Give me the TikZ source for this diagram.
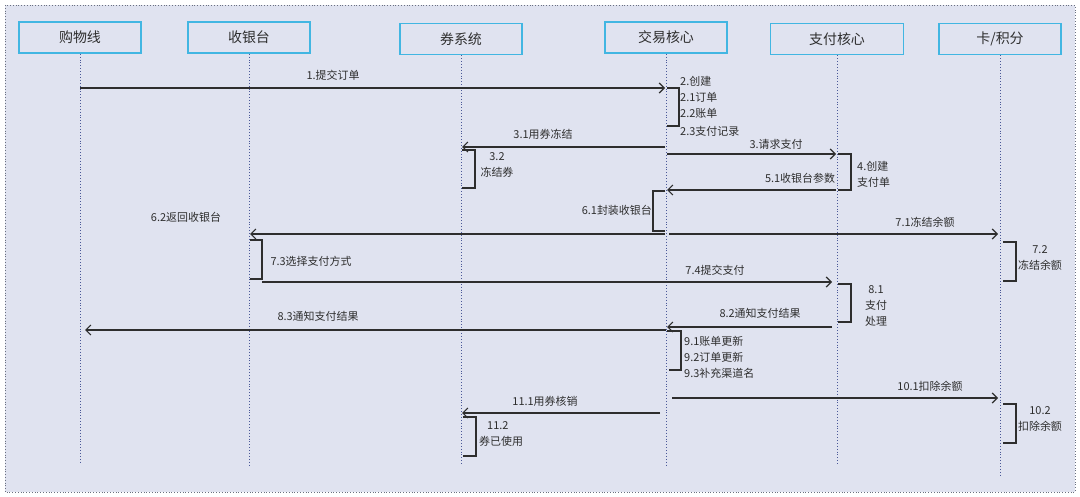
\documentclass[tikz,border=0pt]{standalone}
\usepackage{fontspec}
\setmainfont{Liberation Serif}
\newfontfamily\cjk{Noto Sans CJK SC}
\usetikzlibrary{arrows.meta}
\definecolor{bg}{HTML}{E0E3F0}
\definecolor{boxline}{HTML}{42B6E2}
\definecolor{life}{HTML}{4A5898}
\definecolor{ink}{HTML}{2E2E2E}
\definecolor{frame}{HTML}{6A7080}
\tikzset{
  actor/.style={draw=boxline, line width=1.6bp, fill=bg, minimum width=122bp, minimum height=31bp,
    inner sep=0pt, font=\cjk\fontsize{14}{16}\selectfont, text=ink},
  lifeline/.style={draw=life, dotted, line width=0.9bp},
  msg/.style={draw=ink, line width=1.2bp, -{Straight Barb[length=5bp,width=10bp,line width=1.2bp]}},
  brk/.style={draw=ink, line width=1.2bp},
  lbl/.style={font=\cjk\fontsize{11}{16}\selectfont, text=ink, inner sep=0pt}
}
\begin{document}
\begin{tikzpicture}[x=1bp,y=-1bp]
\useasboundingbox (0,0) rectangle (1080,497);
\fill[white] (0,0) rectangle (1080,497);
\draw[frame, fill=bg, dotted, line width=0.8bp] (5,5) rectangle (1075,492);

% actors
\node[actor] (b1) at (80,37.5) {购物线};
\node[actor] (b2) at (249,37.5) {收银台};
\node[actor] (b3) at (461,39) {券系统};
\node[actor] (b4) at (666,37.5) {交易核心};
\node[actor, minimum width=133bp] (b5) at (837,39) {支付核心};
\node[actor] (b6) at (1000,39) {卡/积分};

% lifeline ends
\coordinate (e1) at (80,463);
\coordinate (e2) at (249,465);
\coordinate (e3) at (461,465);
\coordinate (e4) at (666,465);
\coordinate (e5) at (837,465);
\coordinate (e6) at (1000,475);
\foreach \i in {1,...,6} \draw[lifeline] (b\i.south) -- (e\i);

% 1
\coordinate (m1a) at (80,88); \coordinate (m1b) at (665,88);
\draw[msg] (m1a) -- (m1b);
\node[lbl] (t1) at (333,75) {1.提交订单};
% 2 self
\coordinate (s2a) at (667,88); \coordinate (s2b) at (667,126);
\draw[brk] (s2a) -- ++(12,0) |- (s2b);
\node[lbl, anchor=west] (t2a) at (680,81) {2.创建};
\node[lbl, anchor=west] (t2b) at (680,97) {2.1订单};
\node[lbl, anchor=west] (t2c) at (680,113) {2.2账单};
\node[lbl, anchor=west] (t2d) at (680,131) {2.3支付记录};
% 3.1
\coordinate (m31a) at (665,147); \coordinate (m31b) at (462,147);
\draw[msg] (m31a) -- (m31b);
\node[lbl] (t31) at (543,134) {3.1用券冻结};
% 3.2
\coordinate (s32a) at (462,150); \coordinate (s32b) at (462,188);
\draw[brk] (s32a) -- ++(13,0) |- (s32b);
\node[lbl, align=center] (t32) at (497,165) {3.2\\冻结券};
% 3
\coordinate (m3a) at (667,154); \coordinate (m3b) at (836,154);
\draw[msg] (m3a) -- (m3b);
\node[lbl] (t3) at (776,144) {3.请求支付};
% 4
\coordinate (s4a) at (838,154); \coordinate (s4b) at (838,190);
\draw[brk] (s4a) -- ++(13,0) |- (s4b);
\node[lbl, align=left, anchor=west] (t4) at (857,174) {4.创建\\支付单};
% 5.1
\coordinate (m51a) at (836,190); \coordinate (m51b) at (667,190);
\draw[msg] (m51a) -- (m51b);
\node[lbl] (t51) at (800,178) {5.1收银台参数};
% 6.1
\coordinate (s61a) at (665,191); \coordinate (s61b) at (665,231);
\draw[brk] (s61a) -- ++(-12,0) |- (s61b);
\node[lbl, anchor=east] (t61) at (652,210) {6.1封装收银台};
% 6.2
\coordinate (m62a) at (665,234); \coordinate (m62b) at (250,234);
\draw[msg] (m62a) -- (m62b);
\node[lbl] (t62) at (186,217) {6.2返回收银台};
% 7.1
\coordinate (m71a) at (669,234); \coordinate (m71b) at (998,234);
\draw[msg] (m71a) -- (m71b);
\node[lbl] (t71) at (925,222) {7.1冻结余额};
% 7.2
\coordinate (s72a) at (1003,242); \coordinate (s72b) at (1003,281);
\draw[brk] (s72a) -- ++(13,0) |- (s72b);
\node[lbl, align=center] (t72) at (1040,258) {7.2\\冻结余额};
% 7.3
\coordinate (s73a) at (250,240); \coordinate (s73b) at (250,279);
\draw[brk] (s73a) -- ++(12,0) |- (s73b);
\node[lbl] (t73) at (311,261) {7.3选择支付方式};
% 7.4
\coordinate (m74a) at (262,282); \coordinate (m74b) at (832,282);
\draw[msg] (m74a) -- (m74b);
\node[lbl] (t74) at (715,270) {7.4提交支付};
% 8.1
\coordinate (s81a) at (838,284); \coordinate (s81b) at (838,322);
\draw[brk] (s81a) -- ++(13,0) |- (s81b);
\node[lbl, align=center] (t81) at (876,306) {8.1\\支付\\处理};
% 8.2
\coordinate (m82a) at (832,327); \coordinate (m82b) at (667,327);
\draw[msg] (m82a) -- (m82b);
\node[lbl] (t82) at (760,313) {8.2通知支付结果};
% 8.3
\coordinate (m83a) at (666,330); \coordinate (m83b) at (85,330);
\draw[msg] (m83a) -- (m83b);
\node[lbl] (t83) at (318,316) {8.3通知支付结果};
% 9
\coordinate (s9a) at (667,331); \coordinate (s9b) at (669,370);
\draw[brk] (s9a) -- ++(14,0) |- (s9b);
\node[lbl, anchor=west] (t91) at (684,341) {9.1账单更新};
\node[lbl, anchor=west] (t92) at (684,357) {9.2订单更新};
\node[lbl, anchor=west] (t93) at (684,373) {9.3补充渠道名};
% 10.1
\coordinate (m101a) at (672,398); \coordinate (m101b) at (998,398);
\draw[msg] (m101a) -- (m101b);
\node[lbl] (t101) at (930,386) {10.1扣除余额};
% 10.2
\coordinate (s102a) at (1003,404); \coordinate (s102b) at (1003,443);
\draw[brk] (s102a) -- ++(13,0) |- (s102b);
\node[lbl, align=center] (t102) at (1040,419) {10.2\\扣除余额};
% 11.1
\coordinate (m111a) at (660,413); \coordinate (m111b) at (462,413);
\draw[msg] (m111a) -- (m111b);
\node[lbl] (t111) at (545,401) {11.1用券核销};
% 11.2
\coordinate (s112a) at (463,417); \coordinate (s112b) at (463,456);
\draw[brk] (s112a) -- ++(13,0) |- (s112b);
\node[lbl, align=left, anchor=west] (t112) at (479,434) {\hspace*{8bp}11.2\\券已使用};
\end{tikzpicture}
\end{document}
